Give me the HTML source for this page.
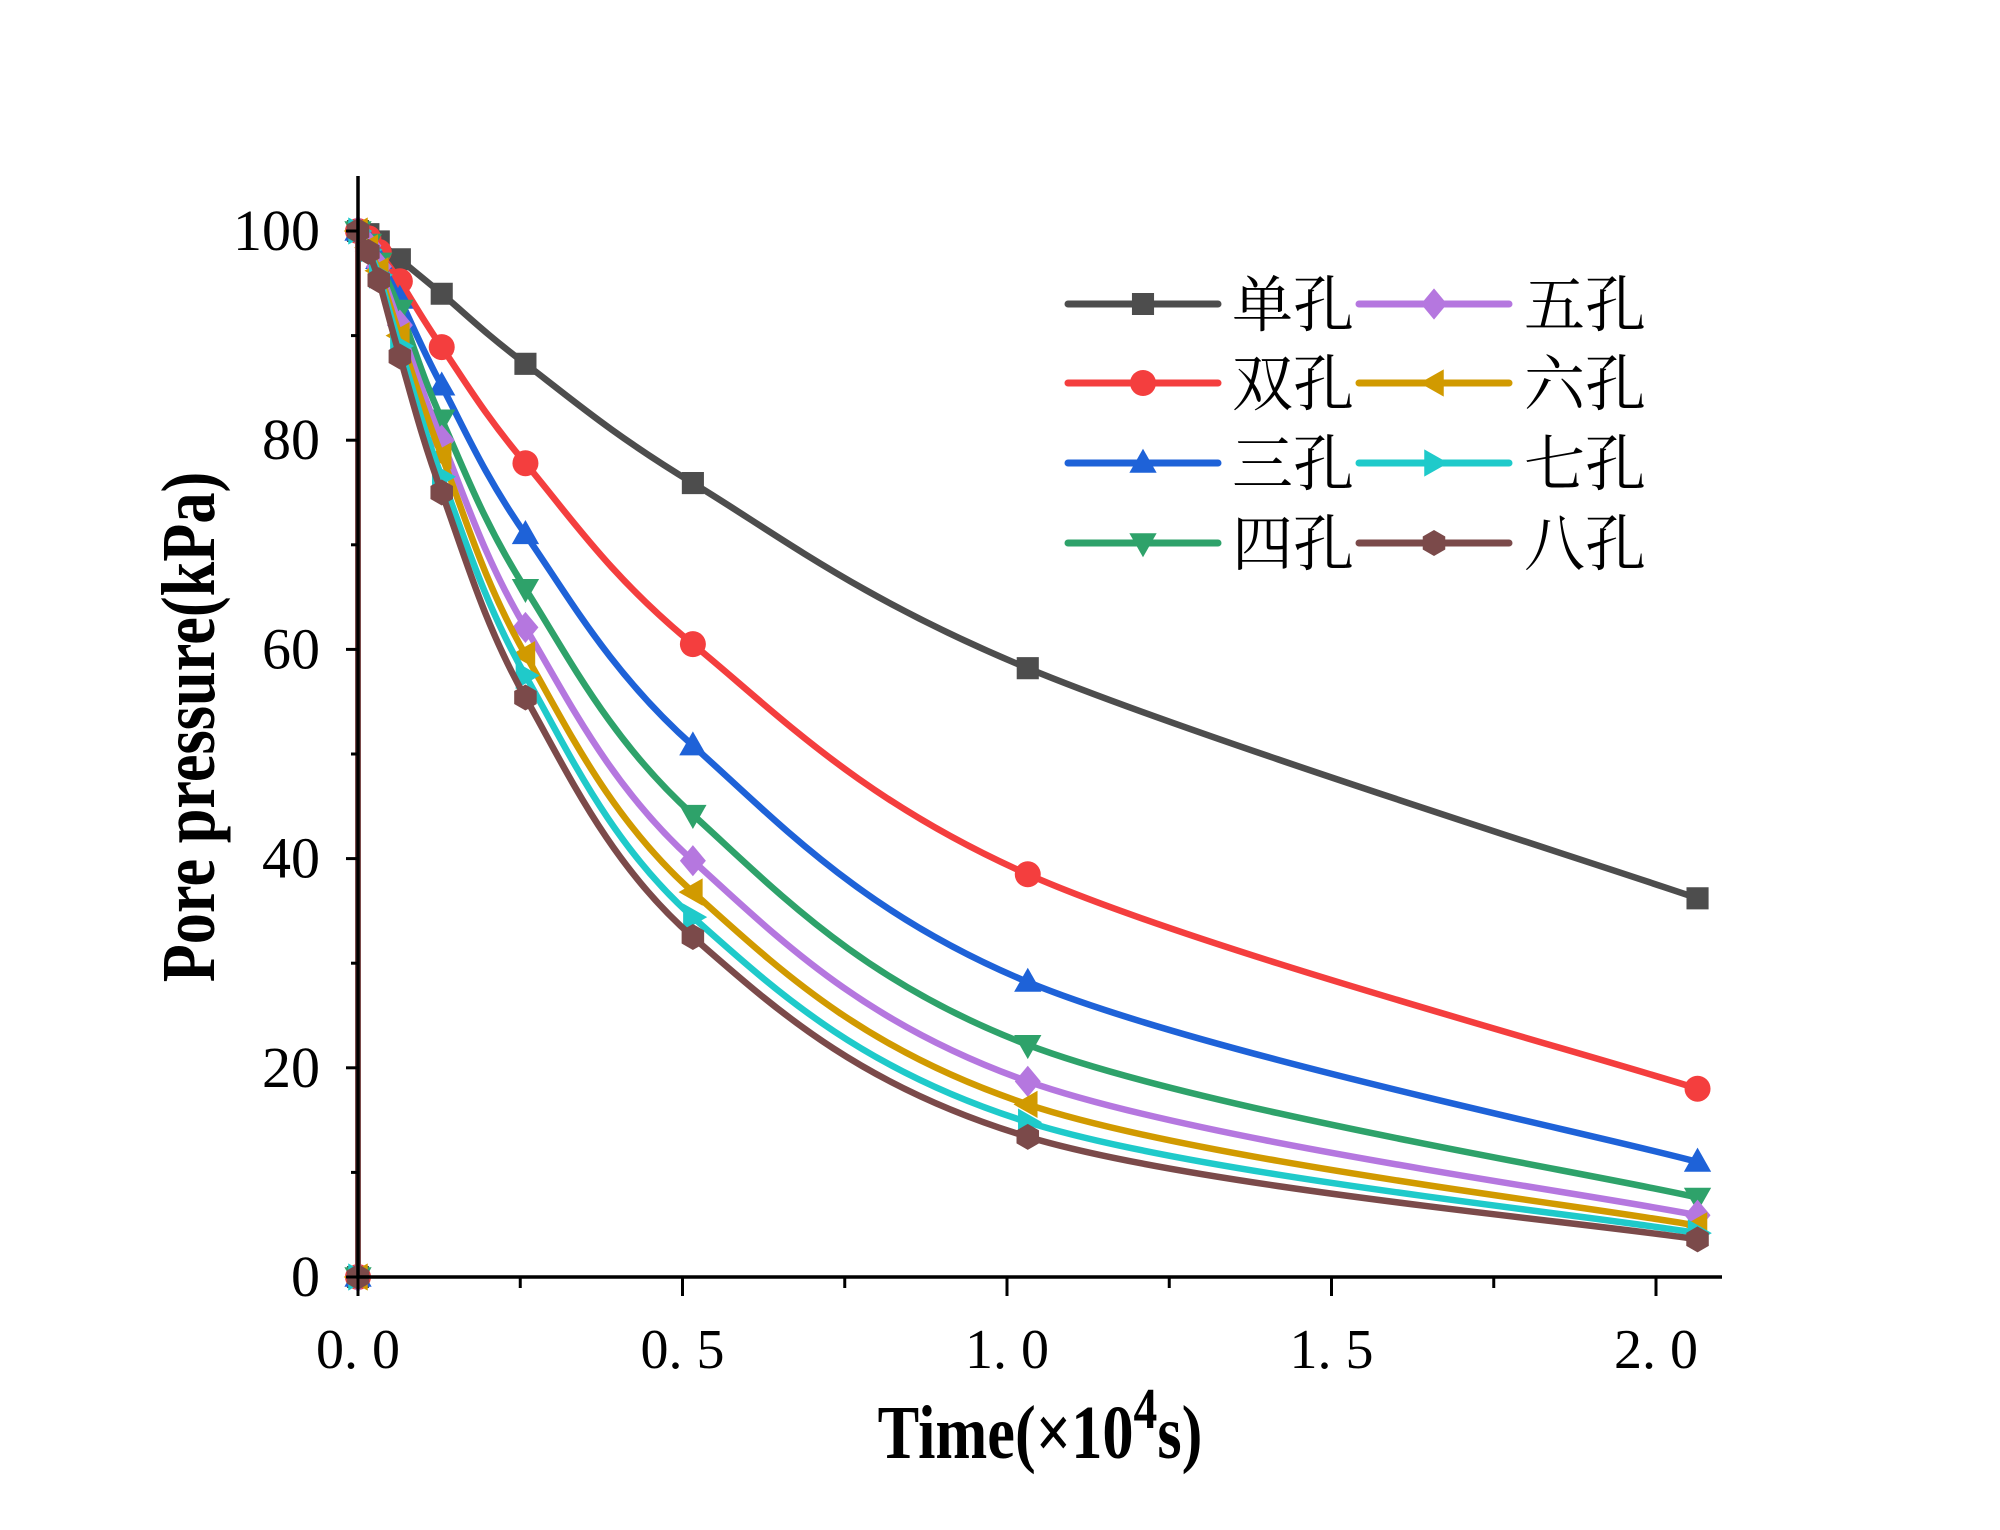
<!DOCTYPE html>
<html><head><meta charset="utf-8"><style>
body{margin:0;background:#fff}
svg{display:block}
</style></head><body>
<svg id="chart" width="2000" height="1530" viewBox="0 0 2000 1530" xmlns="http://www.w3.org/2000/svg">
<rect width="2000" height="1530" fill="#fff"/>
<g id="plot"></g>
<g id="axes"></g>
<g id="legend"></g>
<text x="1040" y="1458" text-anchor="middle" font-family="Liberation Serif, serif" font-weight="bold" font-size="76" transform="translate(1040 0) scale(0.82 1) translate(-1040 0)">Time(×10<tspan font-size="58" dy="-30">4</tspan><tspan dy="30">s)</tspan></text>
<text transform="translate(214 727) rotate(-90) scale(0.82 1)" text-anchor="middle" font-family="Liberation Serif, serif" font-weight="bold" font-size="76">Pore pressure(kPa)</text>
</svg>
<script>
const times = [0, 0, 0.016, 0.032, 0.0645, 0.129, 0.258, 0.516, 1.032, 2.064];
const seriesNames = ['单孔','双孔','三孔','四孔','五孔','六孔','七孔','八孔'];
const s1 = [0, 100, 99.7, 99.0, 97.3, 94.0, 87.3, 75.9, 58.2, 36.2];
const s2 = [0, 100, 99.3, 98.0, 95.2, 88.9, 77.8, 60.5, 38.5, 18.0];
const s3 = [0, 100, 99.0, 97.3, 93.5, 85.2, 71.0, 50.8, 28.2, 11.0];
const s4 = [0, 100, 98.8, 97.0, 92.5, 82.0, 65.8, 44.2, 22.2, 7.6];
const s5 = [0, 100, 98.6, 96.6, 91.0, 80.0, 62.1, 39.8, 18.7, 5.9];
const s6 = [0, 100, 98.4, 96.2, 90.0, 78.5, 59.5, 36.8, 16.5, 4.9];
const s7 = [0, 100, 98.2, 95.8, 89.0, 76.5, 57.5, 34.4, 14.8, 4.2];
const s8 = [0, 100, 98.0, 95.3, 88.0, 75.0, 55.4, 32.5, 13.4, 3.6];
const seriesValues = [s1,s2,s3,s4,s5,s6,s7,s8];
const colors = ['#4d4d4d','#f43e3e','#1e62d8','#2ea26a','#b577df','#d19a00','#1fcaca','#7b4a4a'];
const markers = ['square','circle','up','down','diamond','left','right','hex'];
const yTicks = [0,20,40,60,80,100];
const yMinor = [10,30,50,70,90];
const xTicks = [0,0.5,1.0,1.5,2.0];
const xTickLabels = ['0. 0','0. 5','1. 0','1. 5','2. 0'];
const xMinor = [0.25,0.75,1.25,1.75];

const NS='http://www.w3.org/2000/svg';
const X0=358, X1=1656, Y0=1277, Y1=231;
const xs = t => X0 + (X1-X0)*t/2.0;
const ys = v => Y0 + (Y1-Y0)*v/100;
function mk(tag, attrs, parent){const e=document.createElementNS(NS,tag);for(const k in attrs)e.setAttribute(k,attrs[k]);parent.appendChild(e);return e;}
const plot=document.getElementById('plot'), axes=document.getElementById('axes'), legend=document.getElementById('legend');

function markerPath(type,x,y,r){
  switch(type){
    case 'square': return `M${x-r*0.85},${y-r*0.85}h${1.7*r}v${1.7*r}h${-1.7*r}z`;
    case 'circle': return `M${x-r},${y}a${r},${r} 0 1,0 ${2*r},0a${r},${r} 0 1,0 ${-2*r},0z`;
    case 'up': return `M${x},${y-r*1.1}L${x+r*1.05},${y+r*0.75}L${x-r*1.05},${y+r*0.75}z`;
    case 'down': return `M${x},${y+r*1.1}L${x+r*1.05},${y-r*0.75}L${x-r*1.05},${y-r*0.75}z`;
    case 'diamond': return `M${x},${y-r*1.2}L${x+r},${y}L${x},${y+r*1.2}L${x-r},${y}z`;
    case 'left': return `M${x-r*1.1},${y}L${x+r*0.75},${y-r*1.05}L${x+r*0.75},${y+r*1.05}z`;
    case 'right': return `M${x+r*1.1},${y}L${x-r*0.75},${y-r*1.05}L${x-r*0.75},${y+r*1.05}z`;
    case 'hex': {let p='';for(let i=0;i<6;i++){const a=Math.PI/2+i*Math.PI/3;p+=(i?'L':'M')+(x+r*Math.cos(a))+','+(y-r*Math.sin(a));}return p+'z';}
  }
}
function smooth(pts){
  let d=`M${pts[0][0]},${pts[0][1]}`;
  for(let i=0;i<pts.length-1;i++){
    const p0=pts[Math.max(i-1,0)],p1=pts[i],p2=pts[i+1],p3=pts[Math.min(i+2,pts.length-1)];
    const c1=[p1[0]+(p2[0]-p0[0])/6,p1[1]+(p2[1]-p0[1])/6];
    const c2=[p2[0]-(p3[0]-p1[0])/6,p2[1]-(p3[1]-p1[1])/6];
    d+=`C${c1[0]},${c1[1]} ${c2[0]},${c2[1]} ${p2[0]},${p2[1]}`;
  }
  return d;
}
seriesValues.forEach((vals,si)=>{
  const g=mk('g',{},plot);
  
  
  const pts=vals.map((v,i)=>[xs(times[i]),ys(v)]);
  const first=mk('path',{d:`M${pts[0][0]},${pts[0][1]}L${pts[1][0]},${pts[1][1]}`,stroke:colors[si],'stroke-width':6,fill:'none'},g);
  
  
  const line=mk('path',{d:smooth(pts.slice(1)),stroke:colors[si],'stroke-width':6.5,fill:'none','stroke-linejoin':'round'},g);
  
  
  pts.forEach((p,i)=>{
    const m=mk('path',{d:markerPath(markers[si],p[0],p[1],13),fill:colors[si]},g);
    
    
  });
});
// axes
const ax=mk('path',{d:`M${X0},176V${Y0}H1722`,stroke:'#000','stroke-width':3.5,fill:'none'},axes);


yTicks.forEach(v=>{
  const t=mk('line',{x1:X0-12,x2:X0,y1:ys(v),y2:ys(v),stroke:'#000','stroke-width':3},axes);
  
  
  const l=mk('text',{x:320,y:ys(v)+19,'text-anchor':'end','font-family':'Liberation Serif, serif','font-size':58},axes);
  l.textContent=v;
  
  
});
yMinor.forEach(v=>{
  const t=mk('line',{x1:X0-7,x2:X0,y1:ys(v),y2:ys(v),stroke:'#000','stroke-width':3},axes);
  
  
});
xTicks.forEach((v,i)=>{
  const t=mk('line',{x1:xs(v),x2:xs(v),y1:Y0,y2:Y0+19,stroke:'#000','stroke-width':3},axes);
  
  
  const l=mk('text',{x:xs(v),y:1368,'text-anchor':'middle','font-family':'Liberation Serif, serif','font-size':56},axes);
  l.textContent=xTickLabels[i];
  
  
});
xMinor.forEach(v=>{
  const t=mk('line',{x1:xs(v),x2:xs(v),y1:Y0,y2:Y0+11,stroke:'#000','stroke-width':3},axes);
  
  
});
// legend
const rowsY=[304,383,463,543];
seriesNames.forEach((n,i)=>{
  const col=Math.floor(i/4), row=i%4;
  const lx=col?1359:1068, tx=col?1524:1232, y=rowsY[row];
  const g=mk('g',{},legend);
  
  
  mk('line',{x1:lx,x2:lx+150,y1:y,y2:y,stroke:colors[i],'stroke-width':7,'stroke-linecap':'round'},g);
  mk('path',{d:markerPath(markers[i],lx+75,y,13),fill:colors[i]},g);
  const t=mk('text',{x:tx,y:y+22,'font-family':'Liberation Serif, Noto Serif CJK SC, serif','font-size':61},g);
  t.textContent=n;
});
</script>
</body></html>
